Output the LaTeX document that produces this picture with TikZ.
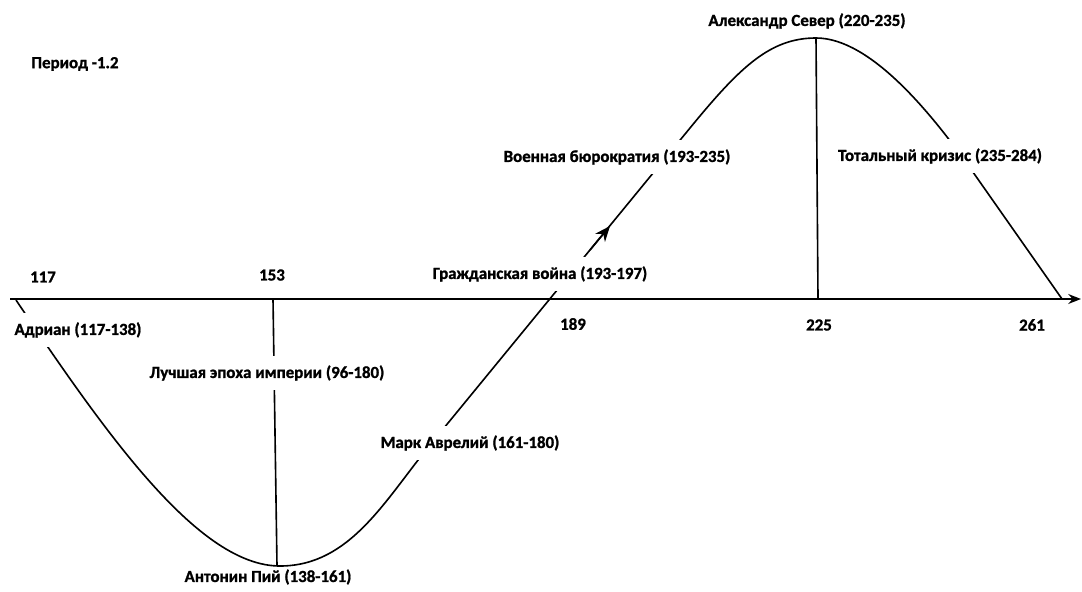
\documentclass[tikz,border=0pt]{standalone}
\usepackage{fontspec}
\setmainfont{Carlito}[BoldFeatures={FakeBold=1.2}]
\usetikzlibrary{arrows.meta}

\begin{document}
\begin{tikzpicture}[
      x=0.025cm, y=-0.025cm,
      >=Stealth,
      every node/.style={font=\fontsize{12}{14}\selectfont\bfseries, inner sep=1pt},
      cut/.style={fill=white, inner xsep=2pt, inner ysep=6.5pt},
      axis/.style={line width=1.4pt, -{Stealth[length=9pt, width=7pt]}},
      wave/.style={line width=1.15pt},
      vline/.style={line width=1.15pt}
  ]
      \useasboundingbox (0,0) rectangle (1082,591);

      % Ось времени
      \coordinate (axStart) at (10,299);
      \coordinate (axEnd) at (1081,299);
      \draw[axis] (axStart) -- (axEnd);

      % Волна
      \coordinate (w0) at (16,300);
      \coordinate (wMin) at (280,566);
      \coordinate (w1) at (430,445);
      \coordinate (w2) at (690,128);
      \coordinate (wMax) at (816,38);
      \coordinate (w3) at (975,175);
      \coordinate (wEnd) at (1062,299);
      \draw[wave] (w0) .. controls (110,440) and (200,566) .. (wMin)
                       .. controls (350,566) and (385,500) .. (w1)
                       -- (w2)
                       .. controls (740,67) and (770,38) .. (wMax)
                       .. controls (870,38) and (931,112) .. (w3)
                       -- (wEnd);
      \coordinate (arrTail) at (590,250);
      \coordinate (arrTip) at (610,226);
      \draw[wave, -{Stealth[length=11pt, width=9pt]}] (arrTail) -- (arrTip);

      % Вертикали
      \coordinate (p153) at (273,299);
      \coordinate (low) at (277,566);
      \coordinate (p225) at (818,299);
      \coordinate (high) at (816,38);
      \draw[vline] (p153) -- (low);
      \draw[vline] (p225) -- (high);

      % Подписи
      \node (period) at (75,64) {Период -1.2};
      \node (n117) at (43,277) {117};
      \node (n153) at (272,275) {153};
      \node (n189) at (573,324) {189};
      \node (n225) at (819,325) {225};
      \node (n261) at (1032,325) {261};

      \node[cut] (adrian) at (78,330) {Адриан (117-138)};
      \node[cut] (best) at (267,373) {Лучшая эпоха империи (96-180)};
      \node (pius) at (268,577) {Антонин Пий (138-161)};
      \node[cut] (marcus) at (470,443) {Марк Аврелий (161-180)};
      \node[cut] (civil) at (540,274) {Гражданская война (193-197)};
      \node[cut] (army) at (617,157) {Военная бюрократия (193-235)};
      \node (severus) at (807,21) {Александр Север (220-235)};
      \node[cut] (crisis) at (940,156) {Тотальный кризис (235-284)};
  \end{tikzpicture}
\end{document}
